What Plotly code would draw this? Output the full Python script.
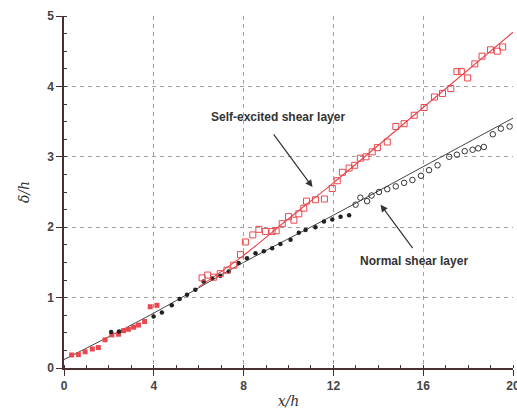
import plotly.graph_objects as go

# Red filled squares (near field, self-excited)
rf_x = [0.34, 0.64, 0.94, 1.26, 1.53, 1.83, 2.13, 2.43, 2.65, 2.87, 3.10, 3.32, 3.59, 3.84, 4.14]
rf_y = [0.185, 0.19, 0.23, 0.27, 0.29, 0.40, 0.47, 0.48, 0.53, 0.55, 0.58, 0.61, 0.66, 0.87, 0.89]

# Black filled circles (near field, normal)
bf_x = [2.10, 2.45, 3.99, 4.36, 4.80, 5.15, 5.48, 5.85, 6.22, 6.60, 6.96, 7.34, 7.78, 8.15, 8.53,
        8.90, 9.27, 9.64, 10.09, 10.46, 10.76, 11.20, 11.58, 11.95, 12.32, 12.70]
bf_y = [0.51, 0.52, 0.73, 0.79, 0.89, 0.98, 1.04, 1.11, 1.23, 1.27, 1.31, 1.37, 1.49, 1.56, 1.63,
        1.66, 1.70, 1.76, 1.82, 1.92, 1.96, 2.00, 2.08, 2.11, 2.15, 2.17]

# Red open squares (self-excited shear layer)
ro_x = [6.15, 6.40, 6.67, 6.96, 7.26, 7.56, 7.86, 8.08, 8.41, 8.68, 8.97, 9.27, 9.45, 9.72, 10.00,
        10.24, 10.46, 10.68, 10.80, 11.20, 11.60, 11.95, 12.17, 12.40, 12.70, 12.95, 13.20, 13.45,
        13.73, 13.96, 14.40, 14.78, 15.15, 15.60, 16.04, 16.50, 16.86, 17.23, 17.50, 17.70, 17.98,
        18.30, 18.62, 19.00, 19.30, 19.54]
ro_y = [1.28, 1.32, 1.29, 1.34, 1.39, 1.46, 1.61, 1.79, 1.89, 1.97, 1.94, 1.94, 1.95, 2.05, 2.15,
        2.10, 2.19, 2.27, 2.37, 2.39, 2.40, 2.55, 2.66, 2.78, 2.84, 2.88, 2.98, 3.00,
        3.07, 3.13, 3.21, 3.43, 3.47, 3.59, 3.70, 3.85, 3.90, 3.97, 4.21, 4.21, 4.12,
        4.32, 4.43, 4.52, 4.50, 4.56]

# Black open circles (normal shear layer)
bo_x = [12.99, 13.20, 13.50, 13.70, 14.03, 14.40, 14.78, 15.15, 15.52, 15.90, 16.26, 16.64, 17.16,
        17.50, 17.85, 18.20, 18.45, 18.70, 19.10, 19.46, 19.85]
bo_y = [2.32, 2.42, 2.37, 2.45, 2.50, 2.54, 2.58, 2.63, 2.67, 2.73, 2.81, 2.88, 3.00,
        3.03, 3.08, 3.10, 3.12, 3.14, 3.32, 3.40, 3.43]

# Fitted curves
fit_n_x = [0, 4, 8, 12, 16, 20]
fit_n_y = [0.12, 0.78, 1.50, 2.17, 2.86, 3.55]
fit_s_x = [6, 8, 10, 12, 16, 20]
fit_s_y = [1.15, 1.60, 2.12, 2.63, 3.70, 4.77]

RED = "#e8484f"
BLK = "#222222"

fig = go.Figure()
fig.add_trace(go.Scatter(x=fit_n_x, y=fit_n_y, mode="lines", line=dict(color="#444444", width=1, shape="spline")))
fig.add_trace(go.Scatter(x=fit_s_x, y=fit_s_y, mode="lines", line=dict(color=RED, width=1.2, shape="spline")))
fig.add_trace(go.Scatter(x=rf_x, y=rf_y, mode="markers",
                         marker=dict(symbol="square", size=5, color=RED, line=dict(width=0))))
fig.add_trace(go.Scatter(x=bf_x, y=bf_y, mode="markers",
                         marker=dict(symbol="circle", size=4.5, color=BLK, line=dict(width=0))))
fig.add_trace(go.Scatter(x=ro_x, y=ro_y, mode="markers",
                         marker=dict(symbol="square-open", size=6, color=RED, line=dict(width=1))))
fig.add_trace(go.Scatter(x=bo_x, y=bo_y, mode="markers",
                         marker=dict(symbol="circle-open", size=5.5, color="#333333", line=dict(width=1))))

axis_col = "#4a2f30"
common = dict(showline=True, linecolor=axis_col, linewidth=1.5, mirror=False, automargin=False,
              showgrid=True, gridcolor="#a0a0a0", griddash="4px,4px", gridwidth=1,
              zeroline=False, ticks="outside", ticklen=6, tickcolor=axis_col, tickwidth=1.2,
              ticklabeloverflow="allow",
              tickfont=dict(family="Liberation Sans", size=12, color="#444444", weight="bold"))

fig.update_xaxes(range=[0, 20], tick0=0, dtick=4,
                 minor=dict(dtick=1, ticks="inside", ticklen=3, tickcolor=axis_col, showgrid=False),
                 title=dict(text="x/h", font=dict(family="DejaVu Serif", size=14, color="#333333", style="italic"),
                            standoff=6),
                 **common)
fig.update_yaxes(range=[0, 5], tick0=0, dtick=1,
                 minor=dict(dtick=0.25, ticks="inside", ticklen=3, tickcolor=axis_col, showgrid=False),
                 title=dict(text="δ/h", font=dict(family="DejaVu Serif", size=14, color="#333333", style="italic"),
                            standoff=14),
                 **common)

ann_font = dict(family="Liberation Sans", size=12, color="#333333", weight="bold")
fig.add_annotation(x=9.55, y=3.57, text="Self-excited shear layer", showarrow=False, font=ann_font)
fig.add_annotation(x=15.58, y=1.52, text="Normal shear layer", showarrow=False, font=ann_font)
fig.add_annotation(x=11.07, y=2.57, ax=9.29, ay=3.34, axref="x", ayref="y", text="", showarrow=True,
                   arrowhead=2, arrowsize=1.2, arrowwidth=1.2, arrowcolor="#333333")
fig.add_annotation(x=14.1, y=2.32, ax=15.58, ay=1.68, axref="x", ayref="y", text="", showarrow=True,
                   arrowhead=2, arrowsize=1.2, arrowwidth=1.2, arrowcolor="#333333")

fig.update_layout(width=517, height=409, margin=dict(l=64, r=4, t=16, b=41),
                  paper_bgcolor="white", plot_bgcolor="white", showlegend=False)

fig.write_html("out.html")
